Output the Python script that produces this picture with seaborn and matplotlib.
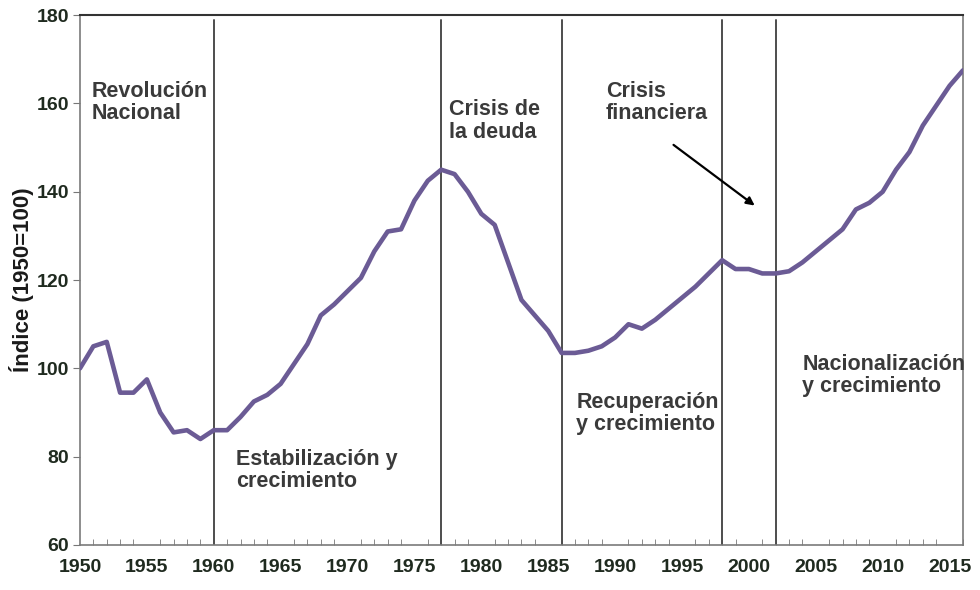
import numpy as np
import pandas as pd
import matplotlib
matplotlib.use("Agg")
import matplotlib.pyplot as plt
import seaborn as sns

# indice 1950=100
years = list(range(1950, 2017))
index_vals = [100, 105, 106, 94.5, 94.5, 97.5, 90, 85.5, 86, 84,
              86, 86, 89, 92.5, 94, 96.5, 101, 105.5, 112, 114.5,
              117.5, 120.5, 126.5, 131, 131.5, 138, 142.5, 145, 144, 140,
              135, 132.5, 124, 115.5, 112, 108.5, 103.5, 103.5, 104, 105,
              107, 110, 109, 111, 113.5, 116, 118.5, 121.5, 124.5, 122.5,
              122.5, 121.5, 121.5, 122, 124, 126.5, 129, 131.5, 136, 137.5,
              140, 145, 149, 155, 159.5, 164, 167.5]
period_breaks = [1960, 1977, 1986, 1998, 2002]
period_labels = ["Revolución\nNacional", "Estabilización y\ncrecimiento",
                 "Crisis de\nla deuda", "Recuperación\ny crecimiento",
                 "Crisis\nfinanciera", "Nacionalización\ny crecimiento"]
label_pos = [(1950.9, 165.2), (1961.7, 81.8), (1977.6, 161), (1987.1, 94.7), (1989.3, 165.2), (2004.0, 103.3)]
x_ticks = list(range(1950, 2016, 5))
y_ticks = [60, 80, 100, 120, 140, 160, 180]

df = pd.DataFrame({"year": years, "indice": index_vals})

sns.set_style("white")
plt.rcParams['font.family'] = ['Liberation Sans', 'DejaVu Sans']

fig = plt.figure(figsize=(9.8, 5.9), dpi=100)
ax = fig.add_axes([0.0816, 0.0763, 0.901, 0.898])

for b in period_breaks:
    ax.axvline(b, ymin=0, ymax=0.99, color="#4d4d4d", lw=1.4, zorder=1)

sns.lineplot(data=df, x="year", y="indice", color="#6b5b95", lw=3.3, ax=ax, zorder=3)

for txt, (x, y) in zip(period_labels, label_pos):
    ax.text(x, y, txt, fontsize=15.5, fontweight="bold", color="#3a3a3a",
            va="top", ha="left", linespacing=1.1)

ax.annotate("", xy=(2000.6, 136.5), xytext=(1994.2, 151),
            arrowprops=dict(arrowstyle="-|>", color="black", lw=1.6, mutation_scale=12))

ax.set_xlim(1950, 2016)
ax.set_ylim(60, 180)
ax.set_xticks(x_ticks)
ax.set_xticks(years, minor=True)
ax.set_yticks(y_ticks)
ax.tick_params(axis="x", which="major", direction="in", length=4, color="#777777",
               labelsize=14, pad=10)
ax.tick_params(axis="x", which="minor", direction="in", length=4, color="#777777", bottom=True)
ax.tick_params(axis="y", direction="out", length=5, color="#777777", left=True,
               labelsize=14, pad=3)
for lab in ax.get_xticklabels() + ax.get_yticklabels():
    lab.set_fontweight("bold")
    lab.set_color("#1f2a1f")

ax.set_xlabel("")
ax.set_ylabel("Índice (1950=100)", fontsize=16, fontweight="bold", color="#1a1a1a", labelpad=2)

for side in ["left", "bottom", "right"]:
    ax.spines[side].set_color("#7a7a7a")
    ax.spines[side].set_linewidth(1.2)
ax.spines["top"].set_color("#333333")
ax.spines["top"].set_linewidth(1.5)

fig.savefig("out.png", dpi=100)
